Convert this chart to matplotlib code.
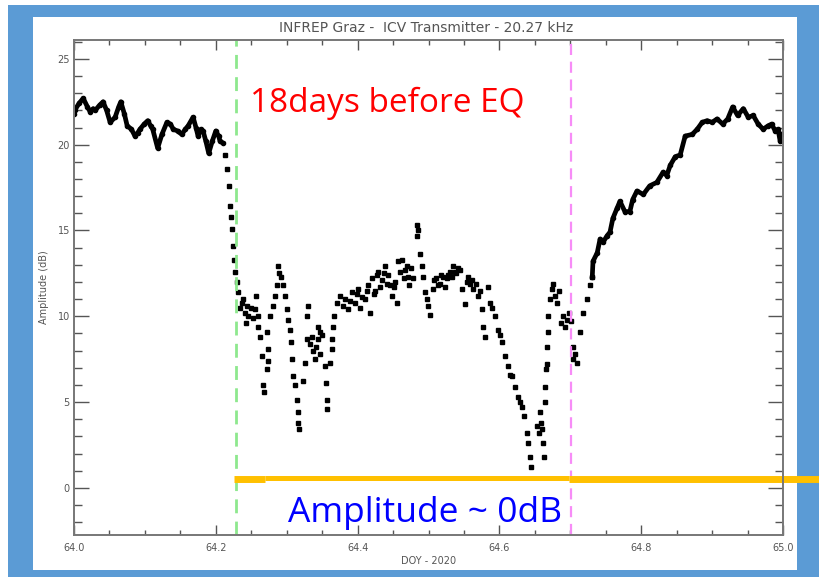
import matplotlib.pyplot as plt
from matplotlib.patches import Rectangle
from matplotlib.ticker import MultipleLocator

# Amplitude before the drop (dense trace)
doy_before = [64.000, 64.001, 64.007, 64.013, 64.019, 64.023, 64.027, 64.030, 64.036, 64.041,
              64.046, 64.051, 64.058, 64.063, 64.066, 64.071, 64.075, 64.081, 64.086, 64.090,
              64.093, 64.099, 64.104, 64.108, 64.111, 64.118, 64.124, 64.131, 64.136, 64.140,
              64.146, 64.152, 64.157, 64.161, 64.168, 64.172, 64.175, 64.179, 64.182, 64.186,
              64.190, 64.195, 64.200, 64.204, 64.206, 64.210]
amp_before = [21.8, 22.0, 22.4, 22.7, 22.2, 21.9, 22.1, 22.0, 22.3, 22.5,
              22.0, 21.3, 21.6, 22.2, 22.5, 21.8, 21.1, 20.9, 20.5, 20.7,
              20.9, 21.2, 21.4, 21.1, 20.9, 19.8, 20.6, 21.3, 21.2, 20.9,
              20.8, 20.6, 20.9, 21.1, 21.6, 21.0, 20.5, 20.9, 20.8, 20.2,
              19.5, 20.2, 20.8, 20.5, 20.2, 20.1]

# Scattered points through the drop and the disturbed period
doy_mid = [64.213, 64.216, 64.219, 64.220, 64.221, 64.223, 64.224, 64.226, 64.227, 64.230,
           64.231, 64.234, 64.237, 64.238, 64.241, 64.243, 64.244, 64.246, 64.250, 64.252,
           64.255, 64.257, 64.260, 64.260, 64.262, 64.265, 64.267, 64.268, 64.272, 64.274,
           64.274, 64.272, 64.276, 64.281, 64.283, 64.286, 64.288, 64.289, 64.292, 64.295,
           64.298, 64.300, 64.302, 64.305, 64.306, 64.307, 64.309, 64.312, 64.315, 64.316,
           64.317, 64.316, 64.323, 64.326, 64.329, 64.329, 64.330, 64.333, 64.336, 64.337,
           64.340, 64.341, 64.344, 64.344, 64.347, 64.347, 64.350, 64.354, 64.355, 64.357,
           64.357, 64.361, 64.364, 64.364, 64.365, 64.367, 64.371, 64.375, 64.379, 64.382,
           64.386, 64.389, 64.392, 64.396, 64.399, 64.401, 64.404, 64.406, 64.410, 64.413,
           64.415, 64.418, 64.420, 64.423, 64.425, 64.427, 64.429, 64.432, 64.434, 64.437,
           64.439, 64.441, 64.443, 64.446, 64.449, 64.451, 64.453, 64.455, 64.457, 64.460,
           64.463, 64.465, 64.467, 64.469, 64.471, 64.473, 64.475, 64.478, 64.484, 64.484,
           64.485, 64.488, 64.491, 64.492, 64.495, 64.498, 64.499, 64.502, 64.506, 64.508,
           64.511, 64.513, 64.516, 64.518, 64.520, 64.523, 64.526, 64.528, 64.530, 64.533,
           64.535, 64.537, 64.539, 64.542, 64.544, 64.547, 64.551, 64.554, 64.556, 64.559,
           64.561, 64.563, 64.567, 64.570, 64.573, 64.575, 64.577, 64.580, 64.584, 64.587,
           64.590, 64.594, 64.598, 64.601, 64.604, 64.608, 64.612, 64.615, 64.618, 64.622,
           64.626, 64.629, 64.632, 64.635, 64.639, 64.640, 64.643, 64.645, 64.653, 64.656,
           64.657, 64.659, 64.660, 64.662, 64.663, 64.664, 64.664, 64.666, 64.667, 64.667,
           64.669, 64.669, 64.671, 64.674, 64.676, 64.678, 64.681, 64.684, 64.687, 64.690,
           64.693, 64.695, 64.698, 64.701, 64.704, 64.704, 64.707]
amp_mid = [19.4, 18.6, 17.6, 16.4, 15.8, 15.1, 14.1, 13.3, 12.6, 12.0,
           11.4, 10.5, 10.8, 11.0, 10.2, 9.6, 10.6, 10.0, 10.5, 9.9,
           10.4, 11.2, 10.0, 9.4, 8.8, 7.7, 6.0, 5.6, 9.1, 8.1,
           7.4, 6.9, 10.0, 10.6, 11.2, 11.8, 12.9, 12.5, 12.3, 11.8,
           11.2, 10.4, 9.8, 9.2, 8.5, 7.5, 6.5, 6.0, 5.1, 4.4,
           3.4, 3.8, 6.2, 7.3, 8.7, 10.0, 10.6, 8.4, 8.8, 8.0,
           7.5, 8.2, 8.7, 9.4, 7.8, 9.1, 8.9, 7.1, 6.1, 5.1,
           4.6, 7.3, 8.1, 8.7, 9.4, 10.0, 10.8, 11.2, 10.6, 11.0,
           10.4, 10.9, 11.4, 10.8, 11.3, 11.6, 10.5, 11.1, 11.0, 11.5,
           11.8, 10.2, 12.2, 11.3, 11.5, 12.4, 12.6, 11.7, 12.1, 12.5,
           12.9, 11.9, 12.4, 11.8, 11.2, 11.7, 12.0, 10.8, 13.2, 12.6,
           13.3, 12.2, 12.7, 12.9, 12.3, 11.8, 12.8, 12.2, 15.3, 14.7,
           15.0, 13.6, 12.9, 12.3, 11.4, 11.0, 10.6, 10.1, 11.6, 12.1,
           12.2, 11.8, 11.9, 12.4, 12.3, 11.7, 12.2, 12.4, 12.6, 12.3,
           12.9, 12.6, 12.5, 12.8, 12.7, 11.6, 10.7, 12.0, 12.3, 11.9,
           12.1, 11.6, 11.9, 11.2, 11.5, 10.4, 9.4, 8.8, 11.7, 10.8,
           10.5, 10.0, 9.2, 8.9, 8.5, 7.7, 7.1, 6.6, 6.5, 5.9,
           5.3, 5.0, 4.7, 4.2, 3.2, 2.6, 1.8, 1.2, 3.6, 3.2,
           4.4, 3.8, 3.4, 2.6, 1.8, 5.0, 5.9, 6.9, 7.2, 8.2,
           9.1, 10.0, 11.0, 11.6, 11.9, 11.2, 10.8, 11.5, 9.6, 10.0,
           9.4, 9.8, 10.2, 9.7, 8.2, 7.5, 7.8]

# Recovery after the drop (dense trace)
doy_after = [64.709, 64.714, 64.718, 64.724, 64.728, 64.731, 64.732, 64.738, 64.742, 64.746,
             64.752, 64.756, 64.760, 64.766, 64.770, 64.777, 64.784, 64.788, 64.794, 64.803,
             64.812, 64.822, 64.831, 64.836, 64.841, 64.848, 64.855, 64.862, 64.872, 64.879,
             64.886, 64.893, 64.900, 64.907, 64.915, 64.922, 64.929, 64.936, 64.944, 64.951,
             64.958, 64.965, 64.972, 64.979, 64.984, 64.989, 64.993, 64.996, 64.999]
amp_after = [7.3, 9.1, 10.2, 11.0, 11.8, 12.3, 13.2, 13.7, 14.5, 14.3,
             14.7, 14.9, 15.7, 16.3, 16.7, 16.1, 16.1, 16.8, 17.3, 17.1,
             17.6, 17.8, 18.4, 18.2, 18.8, 19.3, 19.4, 20.5, 20.6, 20.9,
             21.3, 21.4, 21.3, 21.5, 21.2, 21.5, 22.2, 21.7, 22.1, 21.6,
             21.7, 21.2, 20.9, 21.1, 21.2, 20.8, 20.9, 20.2, 20.6]

onset_doy = 64.228
end_doy = 64.701
zero_start = 64.225
zero_step1 = 64.270
zero_step2 = 64.698
zero_end = 65.051

gray = '#555555'

fig = plt.figure(figsize=(8.19, 5.80), dpi=100, facecolor='white')
# blue slide frame with white panel
fig.patches.append(Rectangle((8 / 819, 3 / 580), 811 / 819, 572 / 580,
                             transform=fig.transFigure, facecolor='#5b9bd5',
                             edgecolor='none', zorder=0))
fig.patches.append(Rectangle((33 / 819, 10 / 580), 764 / 819, 553 / 580,
                             transform=fig.transFigure, facecolor='white',
                             edgecolor='none', zorder=0))

ax = fig.add_axes([74 / 819, 1 - 535 / 580, 709 / 819, 495 / 580])
ax.set_zorder(2)
ax.patch.set_alpha(0)

ax.plot(doy_before, amp_before, color='black', lw=3.4, marker='o', ms=3)
ax.plot(doy_mid, amp_mid, ls='none', color='black', marker='s', ms=2.8)
ax.plot(doy_after[:6], amp_after[:6], ls='none', color='black', marker='s', ms=2.8)
ax.plot(doy_after[5:], amp_after[5:], color='black', lw=3.4, marker='o', ms=3)

ax.axvline(onset_doy, color='#8ee88e', lw=2, dashes=(5, 3))
ax.axvline(end_doy, color='#f78cf7', lw=1.6, dashes=(5, 3))

# orange "0 dB" level line extending past the frame
ax.plot([zero_start, zero_step1], [0.5, 0.5], color='#ffc000', lw=5,
        solid_capstyle='butt', clip_on=False)
ax.plot([zero_step1, zero_step2], [0.6, 0.6], color='#ffc000', lw=3.6,
        solid_capstyle='butt', clip_on=False)
ax.plot([zero_step2, zero_end], [0.5, 0.5], color='#ffc000', lw=5,
        solid_capstyle='butt', clip_on=False)

ax.set_xlim(64.0, 65.0)
ax.set_ylim(-2.75, 26.1)
ax.xaxis.set_major_locator(MultipleLocator(0.2))
ax.xaxis.set_minor_locator(MultipleLocator(0.05))
ax.yaxis.set_major_locator(MultipleLocator(5))
ax.yaxis.set_minor_locator(MultipleLocator(1))
ax.xaxis.set_major_formatter(plt.FormatStrFormatter('%.1f'))
ax.tick_params(axis='both', which='both', direction='in', top=True, right=True,
               colors=gray, labelsize=7, width=1)
ax.tick_params(axis='x', which='major', length=7, pad=6)
ax.tick_params(axis='x', which='minor', length=3.5)
ax.tick_params(axis='y', which='major', length=11, pad=3)
ax.tick_params(axis='y', which='minor', length=5.5)
for sp in ax.spines.values():
    sp.set_color('#777777')
    sp.set_linewidth(1.4)

ax.set_xlabel('DOY - 2020', fontsize=7, color=gray, labelpad=2)
ax.set_ylabel('Amplitude (dB)', fontsize=7, color=gray, labelpad=6)
fig.text(426 / 819, 1 - 28 / 580, 'INFREP Graz -  ICV Transmitter - 20.27 kHz',
         ha='center', va='center', fontsize=10, color=gray)

fig.text(250 / 819, 1 - 112 / 580, '18days before EQ', family='Open Sans',
         fontsize=24, color='#ff0000', ha='left', va='baseline')
fig.text(288 / 819, 1 - 522 / 580, 'Amplitude ~ 0dB', family='Open Sans',
         fontsize=25.5, color='#0000ff', ha='left', va='baseline')

fig.savefig('out.png', dpi=100)
